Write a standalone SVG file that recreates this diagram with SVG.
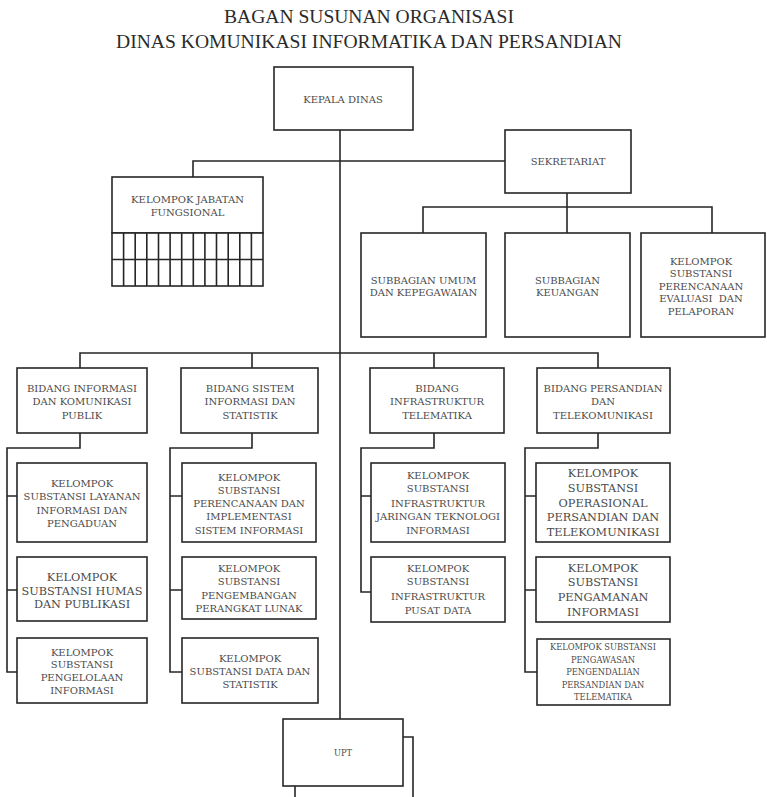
<svg xmlns="http://www.w3.org/2000/svg" width="767" height="797" viewBox="0 0 767 797">
<style>
.bg{fill:#ffffff}
.box{fill:#ffffff;stroke:#262626;stroke-width:1.6}
.ln{fill:none;stroke:#262626;stroke-width:1.6}
.t{font-family:"DejaVu Serif","Liberation Serif",serif;font-size:10px;fill:#4a4a4a;text-anchor:middle}
.tl{font-family:"DejaVu Serif","Liberation Serif",serif;font-size:11.3px;fill:#4a4a4a;text-anchor:middle}
.ts{font-family:"DejaVu Serif","Liberation Serif",serif;font-size:8.3px;fill:#4a4a4a;text-anchor:middle}
.title{font-family:"Liberation Serif",serif;font-size:19px;fill:#2a2a2a;text-anchor:middle}
</style>
<rect class="bg" x="0" y="0" width="767" height="797"/>
<g id="title">
<text class="title" x="369" y="23" textLength="290" lengthAdjust="spacingAndGlyphs">BAGAN SUSUNAN ORGANISASI</text>
<text class="title" x="369" y="48" textLength="506" lengthAdjust="spacingAndGlyphs">DINAS KOMUNIKASI INFORMATIKA DAN PERSANDIAN</text>
</g>
<g id="connectors">
<path class="ln" d="M340 130 V719"/>
<path class="ln" d="M193 177 V161 H505"/>
<path class="ln" d="M567 193 V207 M423 233 V207 H712 V233 M567 207 V233"/>
<path class="ln" d="M80 368 V353 H598 V368 M252 353 V368 M434 353 V368"/>
<path class="ln" d="M80 433 V448 H7 V672 H17 M7 496 H17 M7 590 H17"/>
<path class="ln" d="M252 433 V448 H170 V672 H182 M170 496 H182 M170 590 H182"/>
<path class="ln" d="M434 433 V448 H361 V592 H371 M361 496 H371"/>
<path class="ln" d="M598 433 V448 H525 V672 H537 M525 496 H536 M525 590 H536"/>
<path class="ln" d="M403 737 H413 V797 M295 786 V797"/>
</g>
<g id="kepala-dinas">
<rect class="box" x="274" y="67" width="139" height="63"/>
<text class="t" x="343" y="102.5">KEPALA DINAS</text>
</g>
<g id="sekretariat">
<rect class="box" x="505" y="130" width="126" height="63"/>
<text class="t" x="568" y="164.5">SEKRETARIAT</text>
</g>
<g id="kelompok-jabatan-fungsional">
<rect class="box" x="112" y="177" width="151" height="56"/>
<text class="t" x="187.5" y="203">KELOMPOK JABATAN</text>
<text class="t" x="187.5" y="216">FUNGSIONAL</text>
<rect class="box" x="112" y="233" width="151" height="53"/>
<path class="ln" d="M112 259.5 H263 M123.6 233 V286 M135.2 233 V286 M146.8 233 V286 M158.5 233 V286 M170.1 233 V286 M181.7 233 V286 M193.3 233 V286 M204.9 233 V286 M216.5 233 V286 M228.2 233 V286 M239.8 233 V286 M251.4 233 V286"/>
</g>
<g id="subbagian-umum">
<rect class="box" x="361" y="233" width="125" height="104"/>
<text class="t" x="423.5" y="283.5">SUBBAGIAN UMUM</text>
<text class="t" x="423.5" y="296">DAN KEPEGAWAIAN</text>
</g>
<g id="subbagian-keuangan">
<rect class="box" x="505" y="233" width="125" height="104"/>
<text class="t" x="567.5" y="283.5">SUBBAGIAN</text>
<text class="t" x="567.5" y="296">KEUANGAN</text>
</g>
<g id="kelompok-perencanaan">
<rect class="box" x="641" y="233" width="124" height="104"/>
<text class="t" x="701" y="264.5">KELOMPOK</text>
<text class="t" x="701" y="277">SUBSTANSI</text>
<text class="t" x="701" y="289.5">PERENCANAAN</text>
<text class="t" x="701" y="302" xml:space="preserve">EVALUASI  DAN</text>
<text class="t" x="701" y="315">PELAPORAN</text>
</g>
<g id="bidang-ikp">
<rect class="box" x="17" y="368" width="130" height="65"/>
<text class="t" x="82" y="391.5">BIDANG INFORMASI</text>
<text class="t" x="82" y="405">DAN KOMUNIKASI</text>
<text class="t" x="82" y="418.5">PUBLIK</text>
</g>
<g id="bidang-sis">
<rect class="box" x="181" y="368" width="137" height="65"/>
<text class="t" x="250" y="391.5">BIDANG SISTEM</text>
<text class="t" x="250" y="405">INFORMASI DAN</text>
<text class="t" x="250" y="418.5">STATISTIK</text>
</g>
<g id="bidang-infra">
<rect class="box" x="370" y="368" width="134" height="65"/>
<text class="t" x="437" y="391.5">BIDANG</text>
<text class="t" x="437" y="405">INFRASTRUKTUR</text>
<text class="t" x="437" y="418.5">TELEMATIKA</text>
</g>
<g id="bidang-persandian">
<rect class="box" x="537" y="368" width="133" height="65"/>
<text class="t" x="603" y="391.5">BIDANG PERSANDIAN</text>
<text class="t" x="603" y="405">DAN</text>
<text class="t" x="603" y="418.5">TELEKOMUNIKASI</text>
</g>
<g id="k1a">
<rect class="box" x="17" y="463" width="130" height="79"/>
<text class="t" x="82" y="486.5">KELOMPOK</text>
<text class="t" x="82" y="500">SUBSTANSI LAYANAN</text>
<text class="t" x="82" y="513.5">INFORMASI DAN</text>
<text class="t" x="82" y="527">PENGADUAN</text>
</g>
<g id="k1b">
<rect class="box" x="17" y="557" width="130" height="64"/>
<text class="tl" x="82" y="581">KELOMPOK</text>
<text class="tl" x="82" y="594.5">SUBSTANSI HUMAS</text>
<text class="tl" x="82" y="608">DAN PUBLIKASI</text>
</g>
<g id="k1c">
<rect class="box" x="17" y="638" width="130" height="65"/>
<text class="t" x="82" y="655.5">KELOMPOK</text>
<text class="t" x="82" y="667.5">SUBSTANSI</text>
<text class="t" x="82" y="680.5">PENGELOLAAN</text>
<text class="t" x="82" y="693.5">INFORMASI</text>
</g>
<g id="k2a">
<rect class="box" x="182" y="463" width="134" height="79"/>
<text class="t" x="249" y="480.5">KELOMPOK</text>
<text class="t" x="249" y="493.5">SUBSTANSI</text>
<text class="t" x="249" y="506.5">PERENCANAAN DAN</text>
<text class="t" x="249" y="520">IMPLEMENTASI</text>
<text class="t" x="249" y="533.5">SISTEM INFORMASI</text>
</g>
<g id="k2b">
<rect class="box" x="182" y="557" width="134" height="62"/>
<text class="t" x="249" y="571.5">KELOMPOK</text>
<text class="t" x="249" y="585">SUBSTANSI</text>
<text class="t" x="249" y="598.5">PENGEMBANGAN</text>
<text class="t" x="249" y="611.5">PERANGKAT LUNAK</text>
</g>
<g id="k2c">
<rect class="box" x="182" y="638" width="136" height="65"/>
<text class="t" x="250" y="661.5">KELOMPOK</text>
<text class="t" x="250" y="675">SUBSTANSI DATA DAN</text>
<text class="t" x="250" y="687.5">STATISTIK</text>
</g>
<g id="k3a">
<rect class="box" x="371" y="463" width="134" height="79"/>
<text class="t" x="438" y="478.5">KELOMPOK</text>
<text class="t" x="438" y="491.5">SUBSTANSI</text>
<text class="t" x="438" y="506.5">INFRASTRUKTUR</text>
<text class="t" x="438" y="520">JARINGAN TEKNOLOGI</text>
<text class="t" x="438" y="533.5">INFORMASI</text>
</g>
<g id="k3b">
<rect class="box" x="371" y="557" width="134" height="65"/>
<text class="t" x="438" y="571.5">KELOMPOK</text>
<text class="t" x="438" y="585">SUBSTANSI</text>
<text class="t" x="438" y="600">INFRASTRUKTUR</text>
<text class="t" x="438" y="613.5">PUSAT DATA</text>
</g>
<g id="k4a">
<rect class="box" x="536" y="463" width="134" height="79"/>
<text class="tl" x="603" y="477">KELOMPOK</text>
<text class="tl" x="603" y="492">SUBSTANSI</text>
<text class="tl" x="603" y="507">OPERASIONAL</text>
<text class="tl" x="603" y="521">PERSANDIAN DAN</text>
<text class="tl" x="603" y="536">TELEKOMUNIKASI</text>
</g>
<g id="k4b">
<rect class="box" x="536" y="557" width="134" height="65"/>
<text class="tl" x="603" y="572">KELOMPOK</text>
<text class="tl" x="603" y="586">SUBSTANSI</text>
<text class="tl" x="603" y="601">PENGAMANAN</text>
<text class="tl" x="603" y="616">INFORMASI</text>
</g>
<g id="k4c">
<rect class="box" x="537" y="639" width="133" height="66"/>
<text class="ts" x="603" y="650">KELOMPOK SUBSTANSI</text>
<text class="ts" x="603" y="663">PENGAWASAN</text>
<text class="ts" x="603" y="675">PENGENDALIAN</text>
<text class="ts" x="603" y="688">PERSANDIAN DAN</text>
<text class="ts" x="603" y="700">TELEMATIKA</text>
</g>
<g id="upt">
<rect class="box" x="283" y="719" width="120" height="67"/>
<text class="ts" x="343" y="756">UPT</text>
</g>
</svg>
